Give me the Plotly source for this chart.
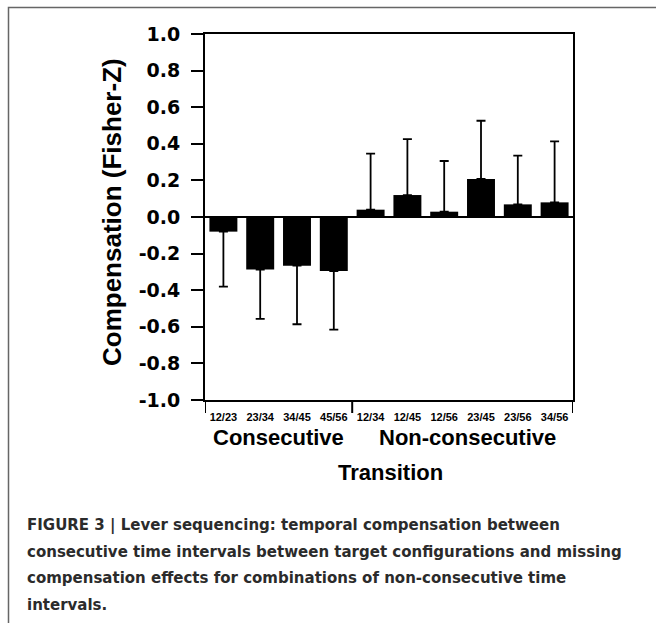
import plotly.graph_objects as go

categories = ["12/23", "23/34", "34/45", "45/56", "12/34", "12/45", "12/56", "23/45", "23/56", "34/56"]
values = [-0.08, -0.287, -0.266, -0.295, 0.040, 0.120, 0.029, 0.208, 0.069, 0.080]
errors = [0.30, 0.27, 0.32, 0.32, 0.306, 0.306, 0.277, 0.318, 0.266, 0.333]
groups = ["Consecutive", "Non-consecutive"]
group_sizes = [4, 6]
y_ticks = [-1.0, -0.8, -0.6, -0.4, -0.2, 0.0, 0.2, 0.4, 0.6, 0.8, 1.0]
caption_lines = [
    "FIGURE 3 | Lever sequencing: temporal compensation between",
    "consecutive time intervals between target configurations and missing",
    "compensation effects for combinations of non-consecutive time",
    "intervals.",
]

W, H = 656, 623
L, R, T, B = 205, 83, 34, 223
PW, PH = W - L - R, H - T - B

def px2x(px):
    return (px - L) / PW

def py2y(py):
    return (H - B - py) / PH

err_plus = [e if v >= 0 else 0 for v, e in zip(values, errors)]
err_minus = [e if v < 0 else 0 for v, e in zip(values, errors)]

fig = go.Figure()
fig.add_trace(go.Bar(
    x=categories, y=values,
    marker=dict(color="black", line=dict(width=0)),
    width=0.76,
    error_y=dict(type="data", symmetric=False, array=err_plus, arrayminus=err_minus,
                 color="black", thickness=1.8, width=4.5),
    showlegend=False,
))

fnt = "Liberation Sans, Arial, sans-serif"

fig.update_layout(
    width=W, height=H,
    margin=dict(l=L, r=R, t=T, b=B, pad=0),
    paper_bgcolor="white", plot_bgcolor="white",
    bargap=0.24,
    xaxis=dict(
        type="category", range=[-0.5, len(categories) - 0.5],
        showline=True, linecolor="black", linewidth=2, mirror=True,
        ticks="", showgrid=False, zeroline=False,
        tickfont=dict(family=fnt, size=11, color="black", weight="bold"),
        ticklabelstandoff=6,
    ),
    yaxis=dict(
        range=[-1, 1], tickvals=y_ticks, ticktext=[f"{v:.1f}" for v in y_ticks],
        showline=True, linecolor="black", linewidth=2, mirror=True,
        ticks="outside", ticklen=12, tickwidth=2, tickcolor="black",
        showgrid=False, zeroline=True, zerolinecolor="black", zerolinewidth=2,
        tickfont=dict(family="DejaVu Sans, sans-serif", size=19, color="black", weight="bold"),
        ticklabelstandoff=7,
    ),
)

# group separator ticks below the x axis
bounds = [-0.5]
for s in group_sizes:
    bounds.append(bounds[-1] + s)
for b in bounds:
    fig.add_shape(type="line", xref="x", yref="paper", x0=b, x1=b, y0=0, y1=-13 / PH,
                  line=dict(color="black", width=2))

# group labels
starts = bounds[:-1]
shifts = [0, 5]
for g, s0, s, sh in zip(groups, starts, group_sizes, shifts):
    fig.add_annotation(text=g, xref="x", yref="paper", x=s0 + s / 2, y=py2y(438),
                       showarrow=False, yanchor="middle", xanchor="center", xshift=sh,
                       font=dict(family=fnt, size=22, color="black", weight="bold"))

fig.add_annotation(text="Transition", xref="paper", yref="paper", x=px2x(390.5), y=py2y(473),
                   showarrow=False, yanchor="middle", xanchor="center",
                   font=dict(family=fnt, size=22, color="black", weight="bold"))

fig.add_annotation(text="Compensation (Fisher-Z)", xref="paper", yref="paper",
                   x=px2x(112), y=py2y(212), textangle=-90,
                   showarrow=False, yanchor="middle", xanchor="center",
                   font=dict(family=fnt, size=26, color="black", weight="bold"))

# caption
for i, line in enumerate(caption_lines):
    fig.add_annotation(text=line, xref="paper", yref="paper",
                       x=px2x(25), y=py2y(525 + i * 26.7),
                       showarrow=False, xanchor="left", yanchor="middle",
                       font=dict(family="DejaVu Sans, sans-serif", size=15, color="#2b2b2b", weight="bold"))

# outer frame
fig.add_shape(type="rect", xref="paper", yref="paper",
              x0=px2x(8.5), x1=px2x(700), y0=py2y(7.5), y1=py2y(700),
              line=dict(color="#666666", width=1.5), fillcolor="rgba(0,0,0,0)", layer="below")

fig.write_html("out.html", config={"displayModeBar": False},
               post_script="document.body.style.margin='0';document.body.style.overflow='hidden';")
